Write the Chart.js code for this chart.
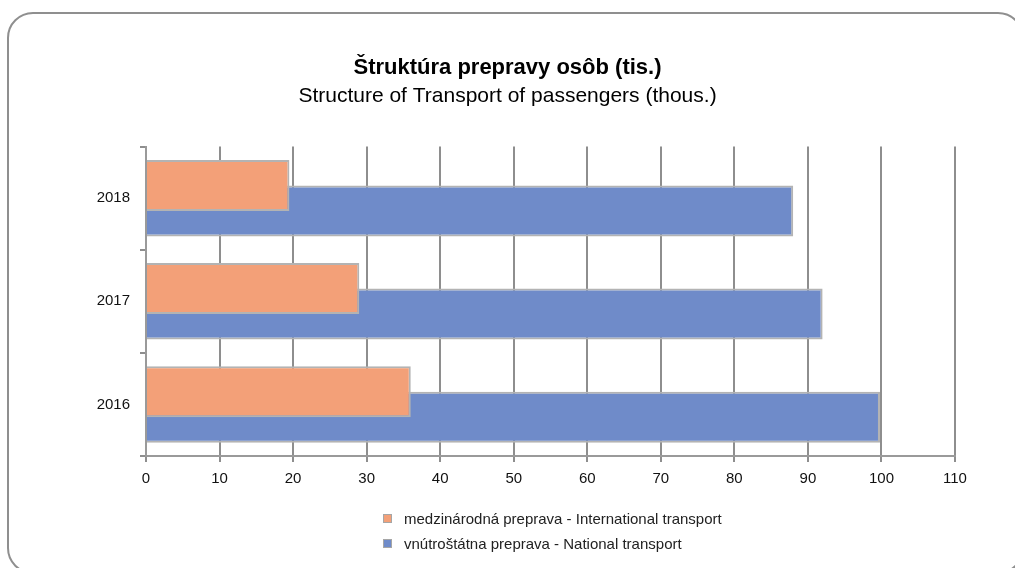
<!DOCTYPE html>
<html>
<head>
<meta charset="utf-8">
<script src="https://cdn.jsdelivr.net/npm/chart.js@4"></script>
<style>
  html, body { margin: 0; padding: 0; background: #fff; }
  #wrap { position: relative; width: 1015px; height: 568px; overflow: hidden; font-family: "Liberation Sans", Arial, sans-serif; }
  #ramik { position: absolute; left: 7px; top: 12px; width: 1013px; height: 558px; border: 2px solid #8f8f8f; border-radius: 26px; }
  #graf-box { position: absolute; left: 0; top: 0; width: 1015px; height: 568px; }
  #legenda { position: absolute; left: 383px; top: 506px; font-size: 15px; color: #222; }
  .leg-riadok { height: 25px; line-height: 20px; display: flex; align-items: center; }
  .leg-box { width: 7px; height: 7px; border: 1px solid #a6a6a6; margin-right: 12px; }
</style>
</head>
<body>
<div id="wrap">
  <div id="ramik"></div>
  <div id="graf-box"><canvas id="graf"></canvas></div>
  <div id="legenda"></div>
</div>
<script>
// data
const roky = ['2018', '2017', '2016'];
const medzinarodna = [19.5, 29, 36];
const vnutrostatna = [88, 92, 99.8];
const nazvySerii = ['medzinárodná preprava - International transport', 'vnútroštátna preprava - National transport'];
const farby = ['#f3a078', '#6f8bc9'];

const pismo = '"Liberation Sans", Arial, sans-serif';

function vytvorLegendu() {
  const legenda = document.getElementById('legenda');
  nazvySerii.forEach((nazov, i) => {
    const riadok = document.createElement('div');
    riadok.className = 'leg-riadok';
    riadok.innerHTML = `<span class="leg-box" style="background:${farby[i]}"></span><span>${nazov}</span>`;
    legenda.appendChild(riadok);
  });
}

function vytvorGraf() {
  const ctx = document.getElementById('graf');
  new Chart(ctx, {
    type: 'bar',
    data: {
      labels: roky,
      datasets: [
        {
          label: nazvySerii[0],
          data: medzinarodna,
          backgroundColor: farby[0],
          borderColor: '#b3b3b3',
          borderWidth: 2,
          categoryPercentage: 0.495,
          barPercentage: 2.0
        },
        {
          label: nazvySerii[1],
          data: vnutrostatna,
          backgroundColor: farby[1],
          borderColor: '#b3b3b3',
          borderWidth: 2,
          categoryPercentage: 0.495,
          barPercentage: 2.0
        }
      ]
    },
    options: {
      indexAxis: 'y',
      responsive: true,
      maintainAspectRatio: false,
      animation: false,
      layout: { padding: { top: 55, left: 60, right: 60, bottom: 0 } },
      scales: {
        x: {
          min: 0,
          max: 110,
          ticks: { stepSize: 10, color: '#111', font: { family: pismo, size: 15 }, padding: 8 },
          grid: { color: '#8e8e8e', lineWidth: 2, tickLength: 6 },
          border: { display: true, color: '#9a9a9a', width: 2 },
          afterFit: (scale) => { scale.height = 112; }
        },
        y: {
          ticks: { color: '#111', font: { family: pismo, size: 15 }, padding: 10 },
          grid: { drawOnChartArea: false, color: '#8e8e8e', lineWidth: 2, tickLength: 6 },
          border: { display: true, color: '#9a9a9a', width: 2 },
          afterFit: (scale) => { scale.width = 86; }
        }
      },
      plugins: {
        legend: { display: false },
        tooltip: { enabled: false },
        title: {
          display: true,
          text: 'Štruktúra prepravy osôb (tis.)',
          color: '#000',
          font: { family: pismo, size: 22, weight: 'bold' },
          padding: { top: 0, bottom: 0 }
        },
        subtitle: {
          display: true,
          text: 'Structure of Transport of passengers (thous.)',
          color: '#000',
          font: { family: pismo, size: 21 },
          padding: { top: 2, bottom: 38 }
        }
      }
    }
  });
}

function init() {
  vytvorLegendu();
  vytvorGraf();
}

if (document.readyState === 'loading') {
  document.addEventListener('DOMContentLoaded', init);
} else {
  init();
}
</script>
</body>
</html>
